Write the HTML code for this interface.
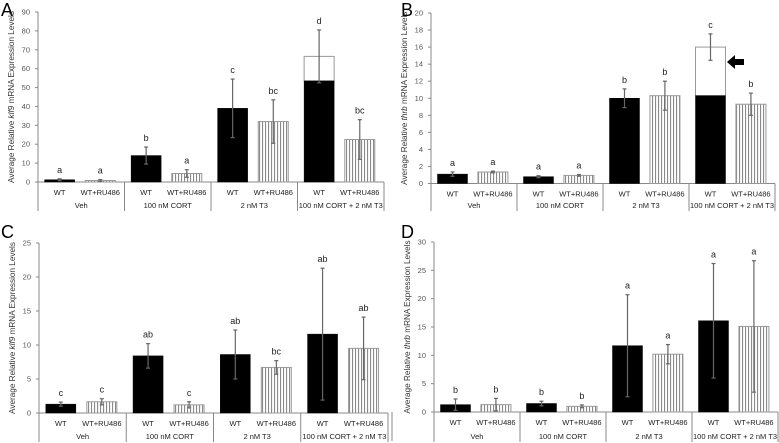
<!DOCTYPE html>
<html><head><meta charset="utf-8">
<style>
html,body{margin:0;padding:0;background:#fff;}
svg{display:block;font-family:"Liberation Sans",sans-serif;}
</style></head>
<body>
<svg id="fig" width="779" height="443" viewBox="0 0 779 443">
<defs>
<pattern id="hatch" patternUnits="userSpaceOnUse" width="3" height="4">
<rect width="3" height="4" fill="#fff"/>
<rect x="1" width="1.1" height="4" fill="#8a8a8a"/>
</pattern>
</defs>
<line x1="392" y1="412" x2="392" y2="441" stroke="#888" stroke-width="1"/>
</svg>
<script>
const groups = ["Veh","100 nM CORT","2 nM T3","100 nM CORT + 2 nM T3"];
const subLabels = ["WT","WT+RU486"];

const aWT = [1.2, 14, 39, 53.5];
const aWTErr = [0.5, 4.5, 15.5, 14];
const aRU = [0.8, 4.5, 32, 22.5];
const aRUErr = [0.5, 2, 11.5, 10.5];
const aLetters = ["a","a","b","a","c","bc","d","bc"];
const aStack = 66.5;
const aTicks = [0,10,20,30,40,50,60,70,80,90];

const bWT = [1.1, 0.8, 10, 10.3];
const bWTErr = [0.25, 0.12, 1.1, 1.55];
const bRU = [1.35, 0.95, 10.3, 9.3];
const bRUErr = [0.1, 0.1, 1.7, 1.3];
const bLetters = ["a","a","a","a","b","b","c","b"];
const bStack = 16;
const bTicks = [0,2,4,6,8,10,12,14,16,18,20];

const cWT = [1.3, 8.4, 8.6, 11.6];
const cWTErr = [0.3, 1.8, 3.6, 9.7];
const cRU = [1.65, 1.2, 6.7, 9.5];
const cRUErr = [0.45, 0.45, 1.0, 4.6];
const cLetters = ["c","c","ab","c","ab","bc","ab","ab"];
const cTicks = [0,5,10,15,20,25];

const dWT = [1.3, 1.5, 11.7, 16.1];
const dWTErr = [1.0, 0.4, 9.0, 10.1];
const dRU = [1.3, 1.0, 10.2, 15.1];
const dRUErr = [1.1, 0.25, 1.7, 11.6];
const dLetters = ["b","b","b","b","a","a","a","a"];
const dTicks = [0,5,10,15,20,25,30];

const NS = "http://www.w3.org/2000/svg";
const svg = document.getElementById("fig");
function mk(tag, attrs, parent, text){
  const e = document.createElementNS(NS, tag);
  for (const k in attrs) e.setAttribute(k, attrs[k]);
  if (text !== undefined) e.textContent = text;
  (parent||svg).appendChild(e);
  return e;
}

function panel(id, letter, lx, ly, x0, x1, yTop, y0, ymax, ticks, wt, wtErr, ru, ruErr, letters, stack, gene, tableBottom){
  const g = mk("g", {});
  
  
  const yS = v => y0 - (v / ymax) * (y0 - yTop);
  const gw = (x1 - x0) / groups.length;
  const xC = (gi, si) => x0 + gi * gw + gw * (si === 0 ? 0.25 : 0.72);
  const bw = 30;

  const pl = mk("text", {x: lx, y: ly, "font-size": 18, fill: "#000"}, g, letter);
  
  

  const ax = mk("line", {x1: x0, y1: yTop, x2: x0, y2: tableBottom, stroke: "#888", "stroke-width": 1}, g);
  
  
  ticks.forEach(t => {
    const y = yS(t);
    mk("line", {x1: x0 - 3, y1: y, x2: x0, y2: y, stroke: "#888"}, g);
    const tl = mk("text", {x: x0 - 8, y: y + 2.5, "font-size": 7.5, fill: "#555", "text-anchor": "end"}, g, String(t));
    
    
  });
  const ty = (yTop + y0) / 2;
  const tt = mk("text", {x: 0, y: 0, "font-size": 8.2, fill: "#333", "text-anchor": "middle",
    transform: "translate(" + (x0 - 24) + "," + ty + ") rotate(-90)"}, g);
  
  
  mk("tspan", {}, tt, "Average Relative ");
  mk("tspan", {"font-style": "italic"}, tt, gene);
  mk("tspan", {}, tt, " mRNA Expression Levels");

  mk("line", {x1: x0, y1: y0, x2: x1, y2: y0, stroke: "#888"}, g);
  for (let i = 1; i <= groups.length; i++) {
    const x = x0 + i * gw;
    mk("line", {x1: x, y1: y0, x2: x, y2: tableBottom, stroke: "#888"}, g);
  }
  groups.forEach((gn, gi) => {
    subLabels.forEach((sl, si) => {
      const st = mk("text", {x: x0 + gi * gw + gw * (si === 0 ? 0.25 : 0.72), y: y0 + 13, "font-size": 7.5, fill: "#222", "text-anchor": "middle"}, g, sl);
      
      
    });
    const gt = mk("text", {x: x0 + (gi + 0.5) * gw, y: tableBottom - 3, "font-size": 7.5, fill: "#222", "text-anchor": "middle"}, g, gn);
    
    
  });

  for (let gi = 0; gi < groups.length; gi++) {
    [[wt, wtErr], [ru, ruErr]].forEach((s, si) => {
      const v = s[0][gi], e = s[1][gi];
      const cx = xC(gi, si);
      let top = v;
      if (si === 0 && gi === 3 && stack) {
        const sb = mk("rect", {x: cx - bw/2, y: yS(stack), width: bw, height: yS(v) - yS(stack), fill: "#fff", stroke: "#999", "stroke-width": 1}, g);
        
        
        top = stack;
      }
      const r = mk("rect", {x: cx - bw/2, y: yS(v), width: bw, height: y0 - yS(v),
        fill: si === 0 ? "#000" : "url(#hatch)", stroke: si === 0 ? "#000" : "#999", "stroke-width": si === 0 ? 0.5 : 1}, g);
      
      
      const yt = yS(top + e), yb = yS(Math.max(top - e, 0));
      const eb = mk("g", {stroke: "#666", "stroke-width": 1.2}, g);
      
      
      mk("line", {x1: cx, y1: yt, x2: cx, y2: yb}, eb);
      mk("line", {x1: cx - 2, y1: yt, x2: cx + 2, y2: yt}, eb);
      mk("line", {x1: cx - 2, y1: yb, x2: cx + 2, y2: yb}, eb);
      const lt = mk("text", {x: cx, y: yt - 6, "font-size": 9, fill: "#222", "text-anchor": "middle"}, g, letters[gi * 2 + si]);
      
      
    });
  }
  return {g, yS, xC};
}

panel("a", "A", 1, 16, 38, 384, 12, 182, 90, aTicks, aWT, aWTErr, aRU, aRUErr, aLetters, aStack, "klf9", 211);
panel("b", "B", 401, 16, 431, 775, 13, 183.5, 20, bTicks, bWT, bWTErr, bRU, bRUErr, bLetters, bStack, "thrb", 211);
panel("c", "C", 1, 238, 39, 388, 243, 413, 25, cTicks, cWT, cWTErr, cRU, cRUErr, cLetters, 0, "klf9", 442);
panel("d", "D", 401, 238, 434, 778, 242, 412, 30, dTicks, dWT, dWTErr, dRU, dRUErr, dLetters, 0, "thrb", 442);

const arrow = mk("path", {d: "M727,62 L735,55 L735,59 L744,59 L744,65 L735,65 L735,69 Z", fill: "#000"});


</script>
</body></html>
